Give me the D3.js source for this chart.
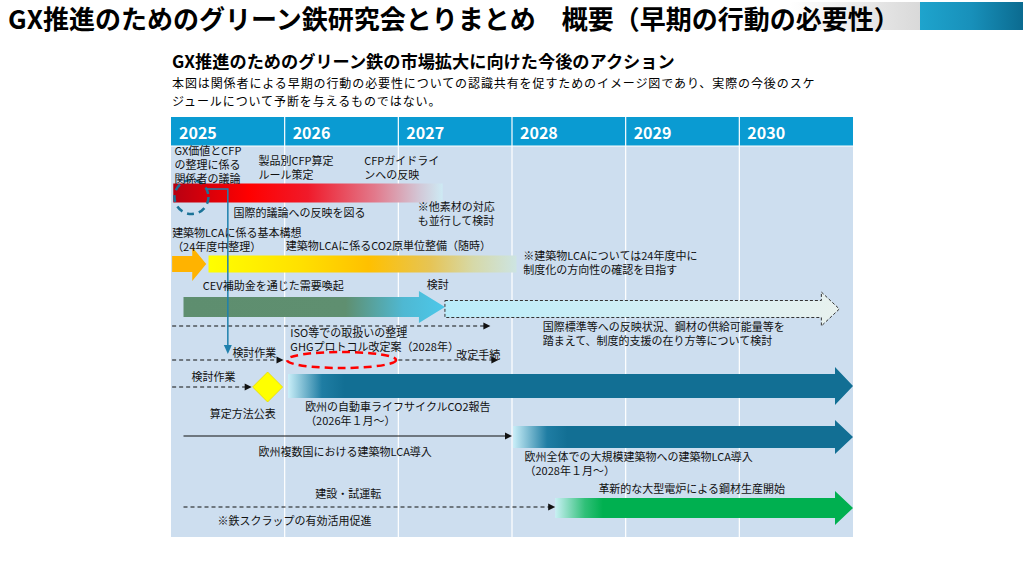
<!DOCTYPE html>
<html><head><meta charset="utf-8">
<script src="https://cdn.jsdelivr.net/npm/d3@7"></script>
<style>body{margin:0;background:#fff}svg{display:block}text{font-family:"Noto Sans CJK JP","Noto Sans",sans-serif}</style>
</head><body><svg id="c" width="1024" height="576"></svg>
<script>
// ---------- data ----------
const years = [2025, 2026, 2027, 2028, 2029, 2030];
const title = "GX推進のためのグリーン鉄研究会とりまとめ　概要（早期の行動の必要性）";
const subtitle = "GX推進のためのグリーン鉄の市場拡大に向けた今後のアクション";
const notes = ["本図は関係者による早期の行動の必要性についての認識共有を促すためのイメージ図であり、実際の今後のスケ",
               "ジュールについて予断を与えるものではない。"];

// gradient bands / arrows: key, start year, end year
const bandKeys   = ["cfp", "lcaBasic", "lcaCO2", "cev", "support", "vehicle", "euLCA", "eaf"];
const bandStart  = [2025.02, 2025.01, 2025.33, 2025.11, 2027.41, 2026.03, 2028.01, 2028.38];
const bandEnd    = [2027.39, 2025.31, 2028.04, 2027.41, 2030.88, 2031.00, 2031.00, 2031.00];

// thin timeline arrows
const lineStart  = [2025.01, 2025.01, 2027.00, 2025.01, 2025.11, 2025.11];
const lineEnd    = [2027.81, 2025.99, 2027.88, 2025.71, 2028.00, 2028.38];
const lineDashed = [true, true, true, true, false, true];

// milestones
const diamondYear = 2025.85;
const circleYear = 2025.18;
const ellipseYear = 2026.50, ellipseHalf = 0.48;
const linkYear = 2025.50;

// annotations: [lines, year]
const annotations = [
  [["GX価値とCFP", "の整理に係る", "関係者の議論"], 2025.03],
  [["製品別CFP算定", "ルール策定"], 2025.77],
  [["CFPガイドライ", "ンへの反映"], 2026.70],
  [["国際的議論への反映を図る"], 2025.55],
  [["※他素材の対応", "も並行して検討"], 2027.17],
  [["建築物LCAに係る基本構想", "（24年度中整理）"], 2025.01],
  [["建築物LCAに係るCO2原単位整備（随時）"], 2026.01],
  [["※建築物LCAについては24年度中に", "制度化の方向性の確認を目指す"], 2028.10],
  [["CEV補助金を通じた需要喚起"], 2025.28],
  [["検討"], 2027.25],
  [["国際標準等への反映状況、鋼材の供給可能量等を", "踏まえて、制度的支援の在り方等について検討"], 2028.27],
  [["ISO等での取扱いの整理", "GHGプロトコル改定案（2028年）"], 2026.05],
  [["改定手続"], 2027.51],
  [["検討作業"], 2025.54],
  [["検討作業"], 2025.18],
  [["算定方法公表"], 2025.34],
  [["欧州の自動車ライフサイクルCO2報告", "（2026年１月～）"], 2026.18],
  [["欧州複数国における建築物LCA導入"], 2025.77],
  [["欧州全体での大規模建築物への建築物LCA導入", "（2028年１月～）"], 2028.11],
  [["建設・試運転"], 2026.27],
  [["革新的な大型電炉による鋼材生産開始"], 2028.76],
  [["※鉄スクラップの有効活用促進"], 2025.41]
];

// ---------- layout ----------
const annY    = [155, 165, 165, 217, 211, 237, 250, 260, 290, 289, 331, 337, 359, 357, 381, 418, 411, 456, 461, 498, 493, 525];
const annStep = 14;
const bandStyle = {
  cfp:      {y:193, h:9.5, type:"bar"},
  lcaBasic: {y:264, h:8,  H:17, L:14, type:"arrow"},
  lcaCO2:   {y:264, h:8.5, type:"bar"},
  cev:      {y:307, h:10, H:16, L:26, type:"arrow"},
  support:  {y:309, h:8.5,H:17, L:18, type:"arrow", dashed:true},
  vehicle:  {y:386, h:12, H:19, L:18, type:"arrow"},
  euLCA:    {y:437, h:11, H:17, L:18, type:"arrow"},
  eaf:      {y:508, h:10, H:17, L:18, type:"arrow"}
};
const bandStops = {
  cfp:      [[0,"#b80012"],[0.28,"#ff0000"],[0.5,"#f01a2a"],[0.75,"#e27a8c"],[0.92,"#d2cad9"],[1,"#cdeaf4"]],
  lcaBasic: [[0,"#ffb300"],[1,"#ffb300"]],
  lcaCO2:   [[0,"#ffff00"],[0.3,"#ffe000"],[0.52,"#ffc000"],[0.72,"#e6c455"],[0.86,"#d6d9a8"],[1,"#cde4e2"]],
  cev:      [[0,"#5e8e6f"],[0.62,"#5f8f70"],[0.84,"#4fb8d2"],[1,"#4cc8ea"]],
  support:  [[0,"#b9ecfa"],[1,"#e8f1ee"]],
  vehicle:  [[0,"#c9eef8"],[0.06,"#1f7da3"],[0.1,"#126f94"],[1,"#126f94"]],
  euLCA:    [[0,"#c9eef8"],[0.1,"#1f7da3"],[0.16,"#126f94"],[1,"#126f94"]],
  eaf:      [[0,"#c9f0f4"],[0.1,"#30c078"],[0.16,"#00b050"],[1,"#00b050"]]
};
const lineY = [326, 360, 360, 387, 436, 507];

const svg = d3.select("#c");
const defs = svg.append("defs");
const x = d3.scaleLinear().domain([2025, 2031]).range([171, 853]);
const headerTop = 117, headerBot = 146, bodyBot = 537;

// top-right decoration
const g1 = defs.append("linearGradient").attr("id","deco1");
g1.append("stop").attr("offset",0).attr("stop-color","#ffffff");
g1.append("stop").attr("offset",1).attr("stop-color","#d9d9d9");
const g2 = defs.append("linearGradient").attr("id","deco2");
g2.append("stop").attr("offset",0).attr("stop-color","#1ea4cd");
g2.append("stop").attr("offset",0.5).attr("stop-color","#1890ba");
g2.append("stop").attr("offset",1).attr("stop-color","#0b6b90");
svg.append("rect").attr("x",790).attr("y",2).attr("width",130).attr("height",28).attr("fill","url(#deco1)");
svg.append("rect").attr("x",920).attr("y",2).attr("width",103).attr("height",28).attr("fill","url(#deco2)");

svg.append("text").attr("x",8).attr("y",29).attr("font-size",26).attr("font-weight","bold").attr("fill","#000").text(title);
svg.append("text").attr("x",172).attr("y",67.5).attr("font-size",17.2).attr("font-weight","bold").attr("fill","#000").text(subtitle);
svg.append("text").attr("x",172).attr("y",88).attr("font-size",12).attr("letter-spacing",0.9).attr("fill","#000")
  .selectAll("tspan").data(notes).join("tspan").attr("x",172).attr("dy",(d,i)=>i?17.5:0).text(d=>d);

// header and body
svg.append("rect").attr("x",x(2025)).attr("y",headerTop).attr("width",x(2031)-x(2025)).attr("height",headerBot-headerTop).attr("fill","#0a9bd2");
svg.append("rect").attr("x",x(2025)).attr("y",headerBot).attr("width",x(2031)-x(2025)).attr("height",bodyBot-headerBot).attr("fill","#cddeef");
svg.selectAll("line.sep").data(years.slice(1)).join("line").attr("class","sep")
  .attr("x1",d=>x(d)).attr("x2",d=>x(d)).attr("y1",headerTop).attr("y2",bodyBot)
  .attr("stroke","#ffffff").attr("stroke-width",1.2);
svg.append("line").attr("x1",x(2025)).attr("x2",x(2031)).attr("y1",headerBot).attr("y2",headerBot).attr("stroke","#ffffff").attr("stroke-width",1);
svg.selectAll("text.yr").data(years).join("text").attr("class","yr")
  .attr("x",d=>x(d)+8).attr("y",139).attr("font-size",16).attr("font-weight","bold").attr("fill","#fff").text(d=>d);

function arrowPath(x0,x1,yc,h,H,L){
  return `M${x0},${yc-h}L${x1-L},${yc-h}L${x1-L},${yc-H}L${x1},${yc}L${x1-L},${yc+H}L${x1-L},${yc+h}L${x0},${yc+h}Z`;
}

// bands
bandKeys.forEach((k,i)=>{
  const s = bandStyle[k], x0 = x(bandStart[i]), x1 = x(bandEnd[i]);
  const gr = defs.append("linearGradient").attr("id","g_"+k).attr("gradientUnits","userSpaceOnUse")
    .attr("x1",x0).attr("x2",x1).attr("y1",0).attr("y2",0);
  bandStops[k].forEach(st=>gr.append("stop").attr("offset",st[0]).attr("stop-color",st[1]));
  const d = s.type==="bar"
    ? `M${x0},${s.y-s.h}H${x1}V${s.y+s.h}H${x0}Z`
    : arrowPath(x0,x1,s.y,s.h,s.H,s.L);
  const p = svg.append("path").attr("d",d).attr("fill",`url(#g_${k})`);
  if (s.dashed) p.attr("stroke","#333").attr("stroke-width",1).attr("stroke-dasharray","3,2");
});

// thin arrows
lineStart.forEach((s,i)=>{
  const x0 = x(s), x1 = x(lineEnd[i]), y = lineY[i];
  svg.append("line").attr("x1",x0).attr("x2",x1-5).attr("y1",y).attr("y2",y)
    .attr("stroke","#111").attr("stroke-width",1.2).attr("stroke-dasharray",lineDashed[i]?"4,3":null);
  svg.append("path").attr("d",`M${x1-7},${y-3.5}L${x1},${y}L${x1-7},${y+3.5}Z`).attr("fill","#111");
});

// dashed circle & link line
svg.append("circle").attr("cx",x(circleYear)).attr("cy",197).attr("r",17)
  .attr("fill","none").attr("stroke","#1b7398").attr("stroke-width",2.5).attr("stroke-dasharray","7,5");
const lx = x(linkYear);
svg.append("path").attr("d",`M${x(circleYear)+15},189H${lx}V346`).attr("fill","none").attr("stroke","#1f80ad").attr("stroke-width",1.5);
svg.append("path").attr("d",`M${lx-4},345L${lx},354L${lx+4},345Z`).attr("fill","#1f80ad");

// red dashed ellipse
svg.append("ellipse").attr("cx",x(ellipseYear)).attr("cy",360)
  .attr("rx",x(ellipseYear+ellipseHalf)-x(ellipseYear)).attr("ry",8)
  .attr("fill","none").attr("stroke","#ff0000").attr("stroke-width",2.5).attr("stroke-dasharray","8,5");

// diamond
const dx = x(diamondYear);
svg.append("path").attr("d",`M${dx},372L${dx+15},387L${dx},402L${dx-15},387Z`).attr("fill","#ffff00").attr("stroke","#e8d800").attr("stroke-width",0.8);

// annotations (multi-line labels as one text with tspans)
svg.selectAll("text.ann").data(annotations).join("text").attr("class","ann")
  .attr("x",d=>x(d[1])).attr("y",(d,i)=>annY[i]).attr("font-size",11).attr("fill","#111")
  .each(function(d){
    d3.select(this).selectAll("tspan").data(d[0]).join("tspan")
      .attr("x",x(d[1])).attr("dy",(t,j)=>j?annStep:0).text(t=>t);
  });
</script></body></html>
